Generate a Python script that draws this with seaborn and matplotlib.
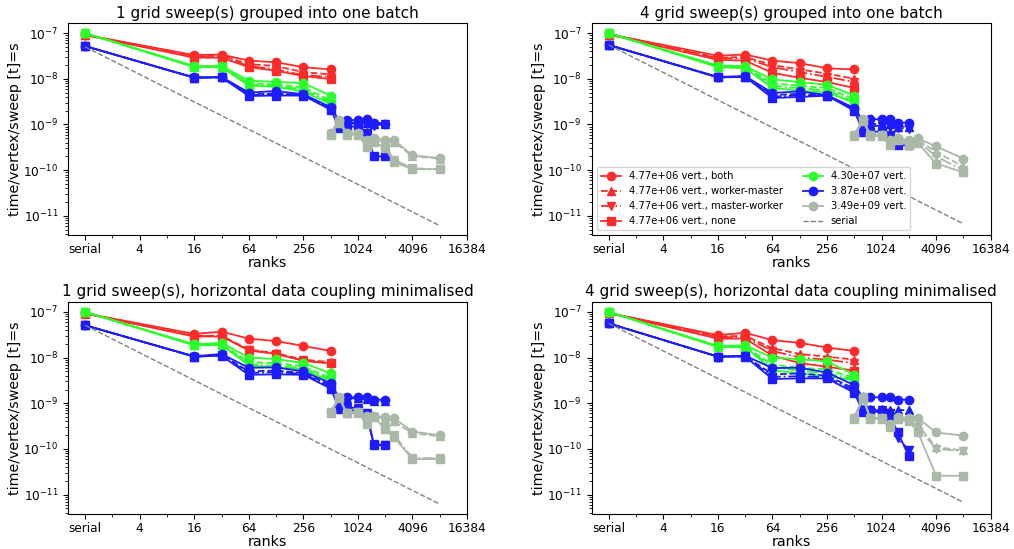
import matplotlib
matplotlib.use('Agg')
import matplotlib.pyplot as plt
from matplotlib.ticker import FixedLocator, NullFormatter
import seaborn as sns

# ranks per problem size ("serial" is drawn at rank 1)
ranks_small = [1, 16, 32, 64, 128, 256, 512]
ranks_mid = [1, 16, 32, 64, 128, 256, 512, 640, 768, 1024, 1280, 1536, 2048]
ranks_large = [512, 640, 768, 1024, 1280, 1536, 2048, 2560, 4096, 8192]
serial_ranks = [1, 8192]

sizes = ['4.77e+06', '4.30e+07', '3.87e+08', '3.49e+09']
variants = ['both', 'worker-master', 'master-worker', 'none']
titles = ['1 grid sweep(s) grouped into one batch',
          '4 grid sweep(s) grouped into one batch',
          '1 grid sweep(s), horizontal data coupling minimalised',
          '4 grid sweep(s), horizontal data coupling minimalised']
tick_ranks = [1, 4, 16, 64, 256, 1024, 4096, 16384]
tick_labels = ['serial', '4', '16', '64', '256', '1024', '4096', '16384']

# rows: both, worker-master, master-worker, none
batch1_s1 = [[9.2e-8, 3.3e-8, 3.4e-8, 2.5e-8, 2.3e-8, 1.8e-8, 1.6e-8],
             [9.2e-8, 3.1e-8, 3.2e-8, 2.1e-8, 1.9e-8, 1.4e-8, 1.25e-8],
             [9.2e-8, 3.0e-8, 3.0e-8, 1.9e-8, 1.6e-8, 1.2e-8, 1.1e-8],
             [9.1e-8, 2.9e-8, 2.9e-8, 1.8e-8, 1.5e-8, 1.15e-8, 9.8e-9]]
batch1_s2 = [[1.0e-7, 1.9e-8, 1.9e-8, 9.1e-9, 8.6e-9, 8.0e-9, 4.3e-9],
             [1.0e-7, 1.85e-8, 1.85e-8, 8.0e-9, 7.5e-9, 6.5e-9, 3.3e-9],
             [1.0e-7, 1.85e-8, 1.85e-8, 7.5e-9, 7.0e-9, 5.8e-9, 3.0e-9],
             [1.0e-7, 1.8e-8, 1.8e-8, 7.1e-9, 6.7e-9, 5.2e-9, 2.8e-9]]
batch1_s3 = [[5.2e-8, 1.07e-8, 1.1e-8, 5.0e-9, 5.4e-9, 4.6e-9, 2.4e-9, 1.2e-9, 1.25e-9, 1.25e-9, 1.3e-9, 1.1e-9, 1.05e-9],
             [5.2e-8, 1.06e-8, 1.08e-8, 4.6e-9, 4.8e-9, 4.4e-9, 2.3e-9, 1.0e-9, 1.1e-9, 1.1e-9, 1.1e-9, 1.0e-9, 1.0e-9],
             [5.2e-8, 1.06e-8, 1.08e-8, 4.4e-9, 4.6e-9, 4.4e-9, 2.2e-9, 9.5e-10, 1.05e-9, 1.05e-9, 1.0e-9, 9.5e-10, 1.0e-9],
             [5.2e-8, 1.05e-8, 1.07e-8, 4.2e-9, 4.3e-9, 4.3e-9, 2.1e-9, 8.5e-10, 9.0e-10, 9.0e-10, 6.6e-10, 2.0e-10, 2.0e-10]]
batch1_s4 = [[6.6e-10, 1.25e-9, 6.6e-10, 6.6e-10, 4.6e-10, 5.1e-10, 4.6e-10, 4.6e-10, 2.1e-10, 1.85e-10],
             [6.4e-10, 1.2e-9, 6.4e-10, 6.4e-10, 4.0e-10, 4.8e-10, 4.0e-10, 4.2e-10, 2.0e-10, 1.8e-10],
             [6.2e-10, 1.15e-9, 6.2e-10, 6.2e-10, 3.5e-10, 4.5e-10, 3.3e-10, 1.7e-10, 1.1e-10, 1.05e-10],
             [6.0e-10, 1.1e-9, 6.0e-10, 6.0e-10, 3.2e-10, 4.2e-10, 3.0e-10, 1.5e-10, 1.05e-10, 1.05e-10]]
batch1_serial = [5.0e-8, 6.1e-12]

batch4_s1 = [[9.5e-8, 3.2e-8, 3.4e-8, 2.5e-8, 2.2e-8, 1.7e-8, 1.6e-8],
             [9.5e-8, 2.9e-8, 3.0e-8, 2.0e-8, 1.6e-8, 1.3e-8, 1.0e-8],
             [9.5e-8, 2.8e-8, 2.8e-8, 1.8e-8, 1.4e-8, 1.1e-8, 8.5e-9],
             [9.3e-8, 2.6e-8, 2.5e-8, 1.35e-8, 1.05e-8, 8.5e-9, 6.3e-9]]
batch4_s2 = [[1.0e-7, 1.95e-8, 1.9e-8, 9.7e-9, 8.5e-9, 7.4e-9, 4.3e-9],
             [1.0e-7, 1.9e-8, 1.8e-8, 8.0e-9, 7.0e-9, 6.3e-9, 3.6e-9],
             [1.0e-7, 1.85e-8, 1.75e-8, 7.0e-9, 6.2e-9, 5.6e-9, 3.2e-9],
             [1.0e-7, 1.8e-8, 1.7e-8, 6.3e-9, 5.5e-9, 5.0e-9, 3.0e-9]]
batch4_s3 = [[5.5e-8, 1.1e-8, 1.15e-8, 4.9e-9, 5.3e-9, 4.4e-9, 2.3e-9, 1.2e-9, 1.3e-9, 1.3e-9, 1.3e-9, 1.1e-9, 1.1e-9],
             [5.5e-8, 1.08e-8, 1.12e-8, 4.4e-9, 4.7e-9, 4.3e-9, 2.2e-9, 8.5e-10, 1.0e-9, 1.05e-9, 1.0e-9, 9.0e-10, 9.0e-10],
             [5.5e-8, 1.08e-8, 1.12e-8, 4.1e-9, 4.3e-9, 4.3e-9, 2.1e-9, 8.0e-10, 9.0e-10, 9.5e-10, 9.0e-10, 8.5e-10, 8.0e-10],
             [5.5e-8, 1.07e-8, 1.1e-8, 3.8e-9, 4.0e-9, 4.3e-9, 2.0e-9, 7.0e-10, 7.0e-10, 7.0e-10, 6.0e-10, 3.5e-10, 3.5e-10]]
batch4_s4 = [[6.0e-10, 1.3e-9, 6.0e-10, 6.0e-10, 4.5e-10, 5.0e-10, 4.5e-10, 5.0e-10, 3.3e-10, 1.8e-10],
             [5.9e-10, 1.25e-9, 5.9e-10, 5.9e-10, 4.2e-10, 4.8e-10, 4.2e-10, 4.6e-10, 2.5e-10, 1.2e-10],
             [5.8e-10, 1.2e-9, 5.8e-10, 5.8e-10, 3.8e-10, 4.6e-10, 3.8e-10, 4.3e-10, 2.0e-10, 1.0e-10],
             [5.6e-10, 1.2e-9, 5.6e-10, 5.6e-10, 3.5e-10, 4.5e-10, 3.5e-10, 4.0e-10, 1.4e-10, 9.0e-11]]
batch4_serial = [5.5e-8, 6.7e-12]

min1_s1 = [[9.3e-8, 3.3e-8, 3.7e-8, 2.6e-8, 2.3e-8, 1.8e-8, 1.4e-8],
           [9.3e-8, 3.0e-8, 3.0e-8, 1.5e-8, 1.25e-8, 9.0e-9, 8.0e-9],
           [9.3e-8, 2.95e-8, 2.95e-8, 1.45e-8, 1.2e-8, 8.7e-9, 7.2e-9],
           [9.2e-8, 2.9e-8, 2.9e-8, 1.45e-8, 1.2e-8, 8.5e-9, 7.5e-9]]
min1_s2 = [[1.0e-7, 1.95e-8, 2.1e-8, 1.0e-8, 9.3e-9, 7.7e-9, 4.5e-9],
           [1.0e-7, 1.9e-8, 1.95e-8, 8.0e-9, 7.5e-9, 6.5e-9, 3.5e-9],
           [1.0e-7, 1.9e-8, 1.9e-8, 7.2e-9, 6.5e-9, 6.0e-9, 3.2e-9],
           [1.0e-7, 1.85e-8, 1.9e-8, 6.8e-9, 6.0e-9, 5.6e-9, 3.0e-9]]
min1_s3 = [[5.1e-8, 1.07e-8, 1.2e-8, 6.0e-9, 6.1e-9, 5.0e-9, 2.75e-9, 1.3e-9, 1.35e-9, 1.35e-9, 1.35e-9, 1.2e-9, 1.2e-9],
           [5.1e-8, 1.05e-8, 1.15e-8, 5.0e-9, 5.2e-9, 4.6e-9, 2.5e-9, 1.2e-9, 1.25e-9, 1.3e-9, 1.25e-9, 1.1e-9, 1.1e-9],
           [5.1e-8, 1.05e-8, 1.12e-8, 4.6e-9, 4.8e-9, 4.4e-9, 2.3e-9, 8.0e-10, 8.0e-10, 8.0e-10, 6.0e-10, 1.3e-10, 1.2e-10],
           [5.1e-8, 1.05e-8, 1.1e-8, 4.2e-9, 4.3e-9, 4.2e-9, 2.1e-9, 7.4e-10, 7.0e-10, 7.0e-10, 5.5e-10, 1.2e-10, 1.2e-10]]
min1_s4 = [[6.5e-10, 1.4e-9, 6.2e-10, 6.5e-10, 5.3e-10, 5.3e-10, 5.0e-10, 4.7e-10, 2.4e-10, 2.0e-10],
           [6.4e-10, 1.35e-9, 6.1e-10, 6.4e-10, 4.5e-10, 5.2e-10, 4.5e-10, 4.0e-10, 2.2e-10, 1.9e-10],
           [6.3e-10, 1.3e-9, 6.0e-10, 6.3e-10, 3.8e-10, 5.0e-10, 3.0e-10, 2.0e-10, 6.5e-11, 6.2e-11],
           [6.2e-10, 1.3e-9, 6.0e-10, 6.2e-10, 3.5e-10, 5.0e-10, 2.7e-10, 1.8e-10, 6.0e-11, 6.0e-11]]
min1_serial = [5.1e-8, 6.2e-12]

min4_s1 = [[9.5e-8, 3.1e-8, 3.5e-8, 2.4e-8, 2.1e-8, 1.66e-8, 1.4e-8],
           [9.5e-8, 2.9e-8, 3.0e-8, 1.6e-8, 1.2e-8, 1.05e-8, 9.0e-9],
           [9.5e-8, 2.8e-8, 2.8e-8, 1.4e-8, 1.0e-8, 9.0e-9, 7.5e-9],
           [9.4e-8, 2.6e-8, 2.6e-8, 1.1e-8, 7.6e-9, 6.3e-9, 5.2e-9]]
min4_s2 = [[1.0e-7, 1.8e-8, 1.85e-8, 1.0e-8, 9.2e-9, 8.3e-9, 4.2e-9],
           [1.0e-7, 1.75e-8, 1.75e-8, 7.0e-9, 6.0e-9, 5.5e-9, 3.6e-9],
           [1.0e-7, 1.75e-8, 1.7e-8, 6.0e-9, 5.2e-9, 4.5e-9, 3.4e-9],
           [1.0e-7, 1.7e-8, 1.7e-8, 5.3e-9, 4.5e-9, 3.9e-9, 3.2e-9]]
min4_s3 = [[5.6e-8, 1.05e-8, 1.1e-8, 5.9e-9, 6.0e-9, 4.7e-9, 2.5e-9, 1.35e-9, 1.35e-9, 1.35e-9, 1.35e-9, 1.2e-9, 1.2e-9],
           [5.6e-8, 1.05e-8, 1.08e-8, 4.3e-9, 4.5e-9, 4.0e-9, 2.1e-9, 7.5e-10, 7.5e-10, 7.5e-10, 7.1e-10, 7.1e-10, 7.1e-10],
           [5.6e-8, 1.05e-8, 1.07e-8, 3.8e-9, 3.9e-9, 3.7e-9, 1.9e-9, 7.0e-10, 7.0e-10, 7.0e-10, 6.0e-10, 1.75e-10, 9.5e-11],
           [5.6e-8, 1.05e-8, 1.05e-8, 3.4e-9, 3.5e-9, 3.5e-9, 1.7e-9, 6.5e-10, 6.5e-10, 6.5e-10, 5.0e-10, 2.4e-10, 6.9e-11]]
min4_s4 = [[4.8e-10, 1.4e-9, 4.8e-10, 4.8e-10, 3.5e-10, 5.0e-10, 4.8e-10, 4.8e-10, 2.3e-10, 1.95e-10],
           [4.8e-10, 1.3e-9, 4.8e-10, 4.8e-10, 3.3e-10, 4.8e-10, 4.5e-10, 3.4e-10, 1.1e-10, 9.3e-11],
           [4.7e-10, 1.3e-9, 4.7e-10, 4.7e-10, 3.2e-10, 4.6e-10, 4.4e-10, 3.0e-10, 1.0e-10, 9.0e-11],
           [4.6e-10, 1.25e-9, 4.6e-10, 4.6e-10, 3.1e-10, 4.5e-10, 4.0e-10, 2.4e-10, 2.6e-11, 2.6e-11]]
min4_serial = [5.6e-8, 6.8e-12]

panels = [
    ([batch1_s1, batch1_s2, batch1_s3, batch1_s4], batch1_serial),
    ([batch4_s1, batch4_s2, batch4_s3, batch4_s4], batch4_serial),
    ([min1_s1, min1_s2, min1_s3, min1_s4], min1_serial),
    ([min4_s1, min4_s2, min4_s3, min4_s4], min4_serial),
]
size_ranks = [ranks_small, ranks_small, ranks_mid, ranks_large]

colors = ['#ff2b2b', '#2bff2b', '#1c1cff', '#aab8a8']
markers = ['o', '^', 'v', 's']
lstyles = ['-', '--', '-.', '-']

plt.rcParams['font.size'] = 8.7
plt.rcParams['axes.titlesize'] = 11
plt.rcParams['axes.labelsize'] = 10.3
plt.rcParams['xtick.major.pad'] = 2.2

fig, axes = plt.subplots(2, 2, figsize=(10.14, 5.49), dpi=100)
fig.subplots_adjust(left=0.067, right=0.977, top=0.958, bottom=0.064,
                    wspace=0.312, hspace=0.315)

for k, ax in enumerate(axes.flat):
    series, serial = panels[k]
    for i, sz in enumerate(series):
        for j, vals in enumerate(sz):
            if i == 0:
                lab = sizes[i] + ' vert., ' + variants[j]
            elif j == 0:
                lab = sizes[i] + ' vert.'
            else:
                lab = '_nolegend_'
            sns.lineplot(x=size_ranks[i], y=vals, ax=ax, color=colors[i],
                         marker=markers[j], linestyle=lstyles[j], linewidth=1.3,
                         markersize=6, markeredgecolor=colors[i],
                         markeredgewidth=1, label=lab, legend=False,
                         errorbar=None, sort=False)
    sns.lineplot(x=serial_ranks, y=serial, ax=ax, color='gray', linestyle='--',
                 linewidth=1, label='serial', legend=False, errorbar=None,
                 sort=False)

    ax.set_xscale('log', base=2)
    ax.set_yscale('log')
    ax.xaxis.set_major_locator(FixedLocator(tick_ranks))
    ax.xaxis.set_minor_locator(FixedLocator([r * 2 for r in tick_ranks[:-1]]))
    ax.xaxis.set_minor_formatter(NullFormatter())
    ax.set_xticklabels(tick_labels)
    ax.set_xlim(2 ** -0.63, 16384)
    ax.set_ylim(10 ** -11.42, 10 ** -6.78)
    ax.set_title(titles[k], pad=4)
    ax.set_xlabel('ranks', labelpad=0)
    ax.set_ylabel('time/vertex/sweep [t]=s', labelpad=1)

axes[0, 1].legend(loc='lower left', ncol=2, fontsize=7.2)

fig.savefig('out.png', dpi=100)
